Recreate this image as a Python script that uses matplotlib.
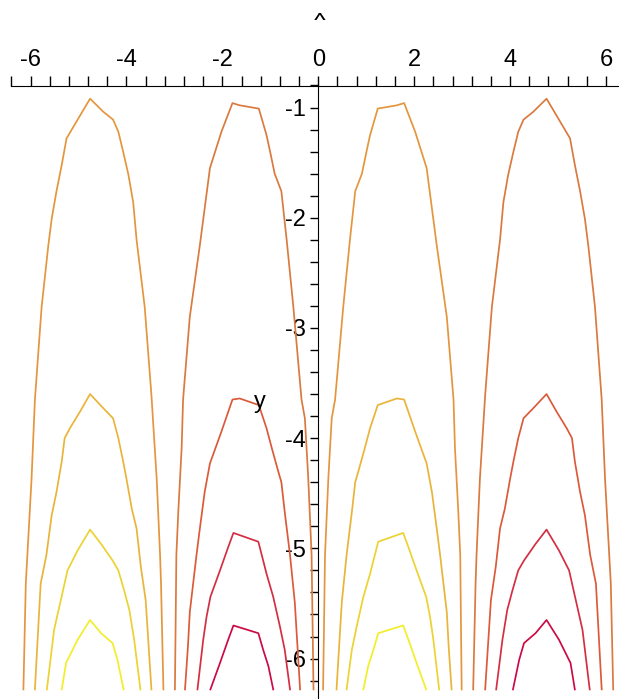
import numpy as np
import matplotlib
matplotlib.use("Agg")
import matplotlib.pyplot as plt
from matplotlib.ticker import FixedLocator
from matplotlib.transforms import Bbox, TransformedBbox

plt.rcParams['axes.unicode_minus'] = False
plt.rcParams['font.family'] = ['Liberation Sans', 'DejaVu Sans']

# contour lines, right half (x > 0)
# arch around x = pi/2 (positive levels)
pos1_x = [0.10, 0.14, 0.21, 0.28, 0.35, 0.52, 0.66, 0.77, 0.91, 1.01, 1.08, 1.24, 1.64, 1.79,
          2.02, 2.26, 2.47, 2.68, 2.82, 2.85, 2.92, 2.96, 2.99]
pos1_y = [-6.28, -5.06, -4.36, -3.82, -3.65, -2.81, -2.20, -1.76, -1.60, -1.39, -1.25, -1.01, -0.98, -0.96,
          -1.22, -1.55, -2.25, -2.90, -3.65, -4.09, -4.67, -5.06, -6.28]
pos3_x = [0.38, 0.49, 0.59, 0.70, 0.77, 0.83, 0.97, 1.08, 1.24, 1.64, 1.79,
          2.02, 2.26, 2.37, 2.47, 2.54, 2.68, 2.72, 2.78]
pos3_y = [-6.28, -5.49, -5.06, -4.67, -4.40, -4.31, -4.09, -3.91, -3.70, -3.64, -3.65,
          -3.94, -4.23, -4.49, -4.82, -5.06, -5.58, -5.90, -6.28]
pos5_x = [0.59, 0.70, 0.80, 0.94, 1.08, 1.15, 1.25, 1.77, 1.88, 2.05, 2.25, 2.33, 2.40, 2.52]
pos5_y = [-6.28, -5.92, -5.71, -5.44, -5.23, -5.11, -4.94, -4.86, -4.99, -5.20, -5.44, -5.62, -5.83, -6.28]
pos7_x = [0.94, 1.04, 1.15, 1.25, 1.77, 1.88, 2.05, 2.25]
pos7_y = [-6.28, -6.07, -5.92, -5.77, -5.70, -5.83, -6.04, -6.28]

# arch around x = 3pi/2 (negative levels)
neg1_x = [3.23, 3.28, 3.30, 3.37, 3.48, 3.62, 3.79, 3.86, 3.96, 4.07, 4.17, 4.28, 4.48, 4.76,
          5.25, 5.35, 5.46, 5.56, 5.63, 5.77, 5.91, 5.98, 6.10, 6.15]
neg1_y = [-6.28, -5.32, -5.06, -4.37, -3.61, -2.81, -2.20, -1.86, -1.61, -1.40, -1.22, -1.11, -1.04, -0.92,
          -1.28, -1.52, -1.76, -2.01, -2.25, -2.81, -3.65, -4.37, -5.32, -6.28]
neg3_x = [3.48, 3.60, 3.70, 3.79, 3.89, 4.00, 4.07, 4.17, 4.28, 4.48, 4.76,
          4.97, 5.18, 5.29, 5.35, 5.46, 5.56, 5.67, 5.79, 5.91]
neg3_y = [-6.28, -5.47, -5.17, -4.82, -4.64, -4.37, -4.21, -4.00, -3.82, -3.73, -3.60,
          -3.76, -3.91, -4.00, -4.21, -4.49, -4.70, -5.06, -5.32, -6.28]
neg5_x = [3.71, 3.84, 3.94, 4.05, 4.17, 4.29, 4.53, 4.76, 5.02, 5.23, 5.37, 5.51, 5.66]
neg5_y = [-6.28, -5.83, -5.56, -5.38, -5.20, -5.11, -4.96, -4.83, -5.02, -5.20, -5.47, -5.74, -6.28]
neg7_x = [4.06, 4.19, 4.29, 4.53, 4.76, 5.02, 5.26, 5.35]
neg7_y = [-6.28, -6.01, -5.86, -5.77, -5.65, -5.83, -6.04, -6.28]

level_colors = {-7: '#cc0a45', -5: '#d42e42', -3: '#db5a3a', -1: '#da7a3e',
                1: '#e4963c', 3: '#eab43a', 5: '#ecd232', 7: '#f2ee2a'}

curves = [(1, pos1_x, pos1_y), (3, pos3_x, pos3_y), (5, pos5_x, pos5_y), (7, pos7_x, pos7_y),
          (-1, neg1_x, neg1_y), (-3, neg3_x, neg3_y), (-5, neg5_x, neg5_y), (-7, neg7_x, neg7_y)]

fig = plt.figure(figsize=(6.19, 6.99), dpi=100)
ax = fig.add_axes([0, 0, 1, 1])

for lev, xs, ys in curves:
    xs = np.array(xs)
    ax.plot(xs, ys, color=level_colors[lev], lw=1.25)
    # function is odd in x: left half is the mirror with opposite sign
    ax.plot(-xs, ys, color=level_colors[-lev], lw=1.25)

ax.set_xlim(-6.638, 6.271)
ax.set_ylim(-6.367, -0.0245)

for s in ['bottom', 'right']:
    ax.spines[s].set_visible(False)
ax.spines['top'].set_position(('data', -0.805))
ax.spines['top'].set_bounds(-6.4, 6.4)
ax.spines['left'].set_position(('data', 0))
ax.spines['left'].set_bounds(-6.4, -0.805)

ax.xaxis.set_ticks_position('top')
ax.yaxis.set_ticks_position('left')
ax.set_xticks([-6, -4, -2, 0, 2, 4, 6])
ax.xaxis.set_minor_locator(FixedLocator(np.arange(-16, 17) * 0.4))
ax.set_yticks([-6, -5, -4, -3, -2, -1])
ax.yaxis.set_minor_locator(FixedLocator(np.arange(-32, -3) * 0.2))
ax.tick_params(axis='x', which='both', direction='out', length=7, width=1, pad=4, labelsize=17)
ax.tick_params(axis='y', which='both', direction='out', length=6, width=1, pad=3, labelsize=17)

ax.text(-1.216, -3.672, 'y', fontsize=17, ha='center', va='center')
t = ax.text(0.02, -0.21, 'x', fontsize=17, ha='center', va='baseline')
t.set_clip_box(TransformedBbox(Bbox.from_extents(0, 0, 1, 686 / 699), fig.transFigure))
t.set_clip_on(True)

fig.savefig('out.png', dpi=100)
